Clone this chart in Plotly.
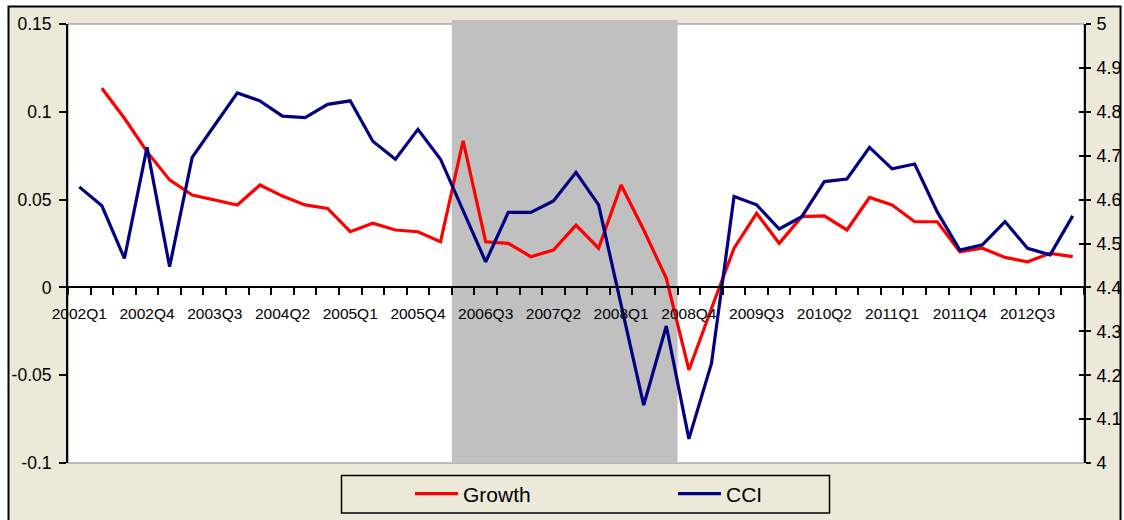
import plotly.graph_objects as go

categories = [
    "2002Q1", "2002Q2", "2002Q3", "2002Q4", "2003Q1", "2003Q2", "2003Q3", "2003Q4",
    "2004Q1", "2004Q2", "2004Q3", "2004Q4", "2005Q1", "2005Q2", "2005Q3", "2005Q4",
    "2006Q1", "2006Q2", "2006Q3", "2006Q4", "2007Q1", "2007Q2", "2007Q3", "2007Q4",
    "2008Q1", "2008Q2", "2008Q3", "2008Q4", "2009Q1", "2009Q2", "2009Q3", "2009Q4",
    "2010Q1", "2010Q2", "2010Q3", "2010Q4", "2011Q1", "2011Q2", "2011Q3", "2011Q4",
    "2012Q1", "2012Q2", "2012Q3", "2012Q4", "2013Q1",
]

growth = [
    None, 0.1134, 0.0963, 0.0773, 0.0612, 0.0526, 0.0498, 0.0469,
    0.0583, 0.0520, 0.0470, 0.0450, 0.0317, 0.0365, 0.0327, 0.0317,
    0.0260, 0.0835, 0.0260, 0.0251, 0.0175, 0.0213, 0.0355, 0.0223,
    0.0583, 0.0327, 0.0052, -0.0470, -0.0120, 0.0223, 0.0422, 0.0251,
    0.0403, 0.0407, 0.0327, 0.0512, 0.0469, 0.0374, 0.0374, 0.0203,
    0.0223, 0.0171, 0.0146, 0.0194, 0.0175,
]

cci = [
    4.629, 4.586, 4.466, 4.719, 4.447, 4.696, 4.770, 4.843,
    4.825, 4.790, 4.787, 4.817, 4.825, 4.733, 4.692, 4.760,
    4.692, 4.576, 4.458, 4.571, 4.571, 4.597, 4.662, 4.588,
    4.364, 4.132, 4.312, 4.055, 4.227, 4.607, 4.588, 4.533,
    4.561, 4.641, 4.647, 4.719, 4.670, 4.681, 4.572, 4.485,
    4.497, 4.550, 4.489, 4.474, 4.563,
]

shade_start = "2006Q2"
shade_end = "2008Q3"

left_tickvals = [-0.1, -0.05, 0, 0.05, 0.1, 0.15]
left_ticktext = ["-0.1", "-0.05", "0", "0.05", "0.1", "0.15"]
right_tickvals = [4.0, 4.1, 4.2, 4.3, 4.4, 4.5, 4.6, 4.7, 4.8, 4.9, 5.0]
right_ticktext = ["4", "4.1", "4.2", "4.3", "4.4", "4.5", "4.6", "4.7", "4.8", "4.9", "5"]
x_ticktext = [c if i % 3 == 0 else "" for i, c in enumerate(categories)]

FONT = "Arial, 'Liberation Sans', sans-serif"
BEIGE = "#ECE9D8"

W, H = 1124, 520
L, R, T, B = 68, 1084, 24, 463
pw, ph = R - L, B - T


def px(xp):
    return (xp - L) / pw


def py(yp):
    return (B - yp) / ph


fig = go.Figure()
fig.add_trace(go.Scatter(
    x=categories, y=growth, name="Growth", mode="lines",
    line=dict(color="#FF0000", width=3.2), yaxis="y", connectgaps=False,
))
fig.add_trace(go.Scatter(
    x=categories, y=cci, name="CCI", mode="lines",
    line=dict(color="#000080", width=3.2), yaxis="y2",
))
fig.add_trace(go.Scatter(
    x=[categories[0]], y=[None], yaxis="y3", showlegend=False,
    hoverinfo="skip", mode="lines",
))

i0 = categories.index(shade_start) - 0.5
i1 = categories.index(shade_end) + 0.5

shapes = [
    dict(type="rect", xref="paper", yref="paper",
         x0=px(8.5), x1=px(1120.5), y0=py(540), y1=py(6.5),
         fillcolor=BEIGE, line=dict(color="black", width=2), layer="below"),
    dict(type="rect", xref="paper", yref="paper",
         x0=0, x1=1, y0=0, y1=1,
         fillcolor="white", line=dict(color="#808080", width=1), layer="below"),
    dict(type="rect", xref="x", yref="paper",
         x0=i0, x1=i1, y0=0, y1=py(20),
         fillcolor="#C0C0C0", line=dict(width=0), layer="below"),
    dict(type="rect", xref="paper", yref="paper",
         x0=px(341.5), x1=px(829.5), y0=py(513), y1=py(475.5),
         fillcolor=BEIGE, line=dict(color="black", width=1.5), layer="below"),
]

fig.update_layout(
    width=W, height=H,
    margin=dict(l=L, r=W - R, t=T, b=H - B, autoexpand=False),
    paper_bgcolor="white",
    plot_bgcolor="rgba(0,0,0,0)",
    font=dict(family=FONT, color="black"),
    shapes=shapes,
    showlegend=True,
    legend=dict(
        orientation="h", x=px(410), xanchor="left", y=py(494), yanchor="middle",
        bgcolor="rgba(0,0,0,0)", borderwidth=0,
        font=dict(size=21, family=FONT),
        itemwidth=43,
        entrywidth=205, entrywidthmode="pixels",
    ),
    xaxis=dict(
        type="category", categoryorder="array", categoryarray=categories,
        range=[-0.5, len(categories) - 0.5],
        anchor="free", position=0.4, automargin=False,
        tickmode="array", tickvals=categories, ticktext=x_ticktext,
        tickson="boundaries", ticks="outside", ticklen=7, tickwidth=1.5,
        tickcolor="black",
        showline=True, linecolor="black", linewidth=2,
        showgrid=False, zeroline=False,
        tickfont=dict(size=15.5, family=FONT),
        tickangle=0,
        ticklabelstandoff=12,
    ),
    yaxis=dict(
        range=[-0.1, 0.15], tickmode="array", automargin=False,
        tickvals=left_tickvals, ticktext=left_ticktext,
        ticks="outside", ticklen=7, tickwidth=1.5, tickcolor="black",
        showline=True, linecolor="black", linewidth=2,
        showgrid=False, zeroline=False,
        tickfont=dict(size=17.5, family=FONT),
        ticklabelstandoff=4,
    ),
    yaxis2=dict(
        range=[4, 5], overlaying="y", side="right", anchor="x", automargin=False,
        tickmode="array", tickvals=right_tickvals, ticktext=right_ticktext,
        ticks="outside", ticklen=5, tickwidth=1.5, tickcolor="black",
        showline=True, linecolor="black", linewidth=2,
        showgrid=False, zeroline=False,
        tickfont=dict(size=18, family=FONT),
        ticklabelstandoff=2,
    ),
    yaxis3=dict(
        range=[4, 5], overlaying="y", side="right", anchor="x", automargin=False,
        tickmode="array", tickvals=right_tickvals,
        ticks="inside", ticklen=5, tickwidth=1.5, tickcolor="black",
        showticklabels=False, showline=False,
        showgrid=False, zeroline=False,
    ),
)

fig.write_html(
    "out.html",
    config={"displayModeBar": False},
    post_script="document.body.style.margin='0px';document.body.style.padding='0px';",
)
